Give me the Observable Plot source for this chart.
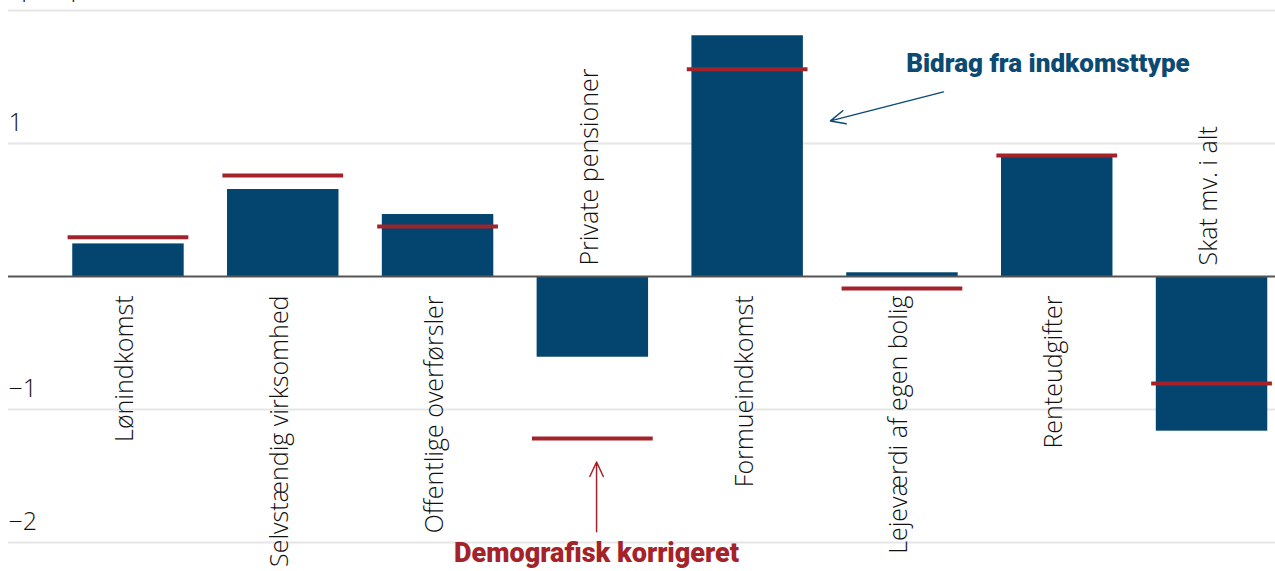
<!DOCTYPE html>
<html>
<head>
<meta charset="utf-8">
<script src="https://cdn.jsdelivr.net/npm/d3@7"></script>
<script src="https://cdn.jsdelivr.net/npm/@observablehq/plot@0.6"></script>
<style>
  html, body { margin: 0; padding: 0; background: #fff; }
  #chart { width: 1275px; height: 571px; overflow: hidden; }
</style>
</head>
<body>
<div id="chart"></div>
<script>
// ---- data ----
const categories = [
  "Lønindkomst",
  "Selvstændig virksomhed",
  "Offentlige overførsler",
  "Private pensioner",
  "Formueindkomst",
  "Lejeværdi af egen bolig",
  "Renteudgifter",
  "Skat mv. i alt"
];
const contribution = [0.245, 0.654, 0.466, -0.607, 1.81, 0.028, 0.90, -1.163];
const corrected    = [0.295, 0.76, 0.376, -1.218, 1.559, -0.09, 0.91, -0.805];
const yTicks = [-2, -1, 1, 2];
const yTickLabels = [-2, -1, 1];
const unitLabel = "I pct.-point";

// annotation anchors in data units (x = category index, y = value)
const noteBlue = {text: "Bidrag fra indkomsttype", x: 5.94, y: 1.6};
const arrowBlue = {x1: 5.265, y1: 1.388, x2: 4.535, y2: 1.17};
const noteRed = {text: "Demografisk korrigeret", x: 3.024, y: -2.08};
const arrowRed = {x1: 3.024, y1: -1.92, x2: 3.024, y2: -1.395};

const rows = categories.map((c, i) => ({cat: c, i, v: contribution[i], c2: corrected[i]}));

const BLUE = "#03456e";
const RED = "#a4232b";
const BAR = 0.36;
const LINE = 0.39;
const INK = "#111";

const plot = Plot.plot({
  width: 1275,
  height: 571,
  marginTop: 10,
  marginBottom: 29,
  marginLeft: 8,
  marginRight: 0,
  x: {type: "linear", domain: [-0.775, 7.41], axis: null},
  y: {domain: [-2, 2], axis: null},
  style: {fontFamily: "'Open Sans', sans-serif", fontSize: "24px", background: "#fff", overflow: "visible"},
  marks: [
    Plot.ruleY(yTicks, {y: d => d, stroke: "#e6e6e6", strokeWidth: 2}),
    Plot.text(yTickLabels, {
      y: d => d, text: d => d3.format("")(d).replace("-", "\u2212"),
      frameAnchor: "left", textAnchor: "start", dy: -21,
      fill: INK, fontSize: 25, fontWeight: 300
    }),
    Plot.text([unitLabel], {
      y: 2, text: d => d, frameAnchor: "left", textAnchor: "start", dy: -23,
      fill: INK, fontSize: 25, fontWeight: 300
    }),
    Plot.rect(rows, {
      x1: d => d.i - BAR, x2: d => d.i + BAR, y1: 0, y2: d => d.v, fill: BLUE
    }),
    Plot.ruleY([0], {stroke: "#555", strokeWidth: 2}),
    Plot.ruleY(rows, {
      x1: d => d.i - LINE, x2: d => d.i + LINE, y: d => d.c2, stroke: RED, strokeWidth: 4
    }),
    // category labels below zero for positive bars
    Plot.text(rows.filter(d => d.v >= 0), {
      x: d => d.i, y: 0, text: d => d.cat, rotate: -90, textAnchor: "end",
      dy: 19, dx: -3, fill: INK, fontSize: 25, fontWeight: 300
    }),
    // category labels above zero for negative bars
    Plot.text(rows.filter(d => d.v < 0), {
      x: d => d.i, y: 0, text: d => d.cat, rotate: -90, textAnchor: "start",
      dy: -11, dx: -3, fill: INK, fontSize: 25, fontWeight: 300
    }),
    // annotations
    Plot.text([noteBlue], {
      x: "x", y: "y", text: "text", fill: "#0b4a72", fontWeight: 900, fontSize: 26,
      fontFamily: "Roboto, 'Liberation Sans Narrow', sans-serif"
    }),
    Plot.arrow([arrowBlue], {
      x1: "x1", y1: "y1", x2: "x2", y2: "y2", stroke: "#0b4a72", strokeWidth: 1.5,
      headLength: 16, headAngle: 50
    }),
    Plot.text([noteRed], {
      x: "x", y: "y", text: "text", fill: RED, fontWeight: 900, fontSize: 27,
      fontFamily: "Roboto, 'Liberation Sans Narrow', sans-serif"
    }),
    Plot.arrow([arrowRed], {
      x1: "x1", y1: "y1", x2: "x2", y2: "y2", stroke: RED, strokeWidth: 1.5,
      headLength: 16, headAngle: 50
    })
  ]
});
document.getElementById("chart").appendChild(plot);
</script>
</body>
</html>
